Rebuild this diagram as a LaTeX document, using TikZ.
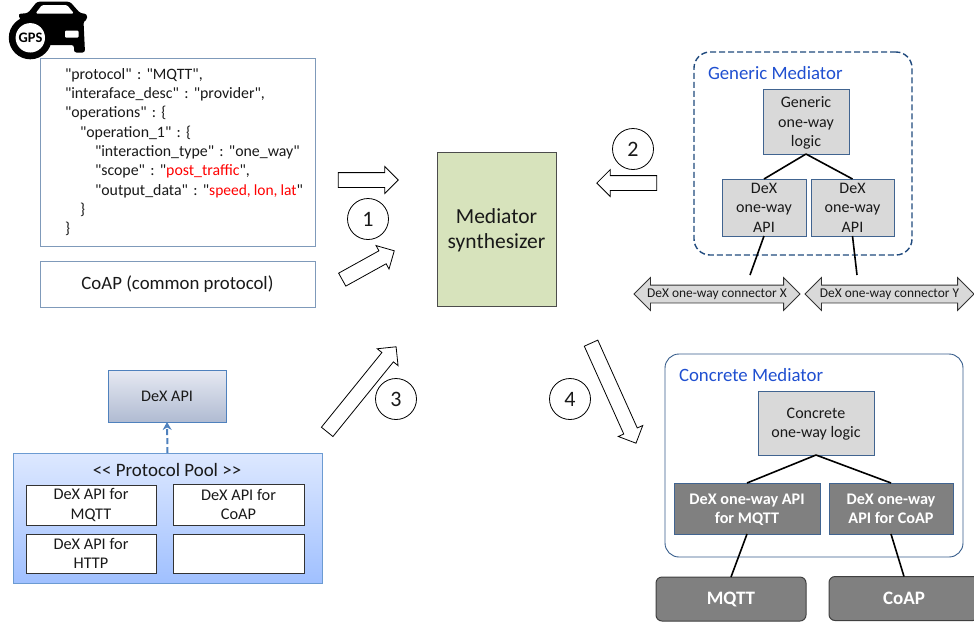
\documentclass[tikz,border=0pt]{standalone}
\usepackage{fontspec}
\setmainfont[Ligatures=TeXOff]{Carlito}
\usetikzlibrary{shapes.arrows,arrows.meta}
\definecolor{frameblue}{HTML}{7F9ABA}
\definecolor{darkblue}{HTML}{1F497D}
\definecolor{titleblue}{HTML}{1F4FD0}
\definecolor{poolline}{HTML}{6C9BD2}
\definecolor{usesblue}{HTML}{4F81BD}
\definecolor{synthgreen}{HTML}{D7E3BC}
\definecolor{pooltop}{HTML}{DDE8FF}
\definecolor{poolbottom}{HTML}{A0C0FF}
\definecolor{apitop}{HTML}{E6E9F2}
\definecolor{apibottom}{HTML}{B0BBD2}

\begin{document}
\begin{tikzpicture}[x=1pt,y=-1pt]
\tikzstyle{every node}=[outer sep=0pt,inner sep=0pt,align=center,text=black!90]
\tikzstyle{box}=[draw=frameblue,line width=1pt,fill=white]
\tikzstyle{logicbox}=[draw=darkblue!85,line width=0.9pt,fill=black!15,font=\fontsize{16}{19.4}\selectfont]
\tikzstyle{apibox}=[draw=darkblue!85,line width=0.9pt,fill=black!50,text=white,text depth=-7pt,font=\fontsize{16.2}{19.5}\selectfont\bfseries]
\tikzstyle{protobox}=[draw=black!75,line width=1pt,rounded corners=6pt,fill=black!50,text=white,font=\fontsize{19}{20}\selectfont\bfseries]
\tikzstyle{poolbox}=[draw=black!80,line width=0.9pt,fill=white,font=\fontsize{16.3}{19.5}\selectfont]
\tikzstyle{stepnum}=[draw=black,circle,line width=0.8pt,minimum size=41pt,fill=white,font=\fontsize{22}{24}\selectfont]
\tikzstyle{fatarrow}=[draw=black,line width=0.8pt,fill=white,single arrow,single arrow head extend=6pt,text height=14pt,text depth=0pt]
\tikzstyle{conn}=[draw=black!80,line width=0.8pt,fill=black!15,double arrow,double arrow head extend=7.5pt,text height=12pt,text depth=5pt,font=\fontsize{13.4}{14}\selectfont]
\tikzstyle{link}=[draw=black,line width=1.6pt]
\tikzstyle{mtitle}=[anchor=west,text=titleblue,font=\fontsize{18.8}{20}\selectfont]
\useasboundingbox (0,0) rectangle (974,625);

% car with gps badge
\fill[black,rounded corners=2.5pt] (18,14)--(28,13)--(37,1.7)--(70,1.7)--(80,13)--(87,14)--(87,20)--(83.5,21)--(85,52.5)--(74,52.5)--(74,45)--(40,45)--(25,30)--cycle;
\fill[white,rounded corners=1.5pt] (35.5,13.5)--(42,5)--(67,5)--(74,13.5)--cycle;
\fill[white,rounded corners=1pt] (65,30.5) rectangle (78.5,37.5);
\fill[black] (30.3,37.8) circle (21.5);
\fill[white] (30.3,37.8) circle (14.7);
\node[font=\fontsize{14.5}{16}\selectfont\bfseries,text=black] (gps) at (30.5,38) {GPS};

% inputs
\node[box,minimum width=275pt,minimum height=188pt,text width=275pt,align=left,
  font=\fontsize{15.85}{19.3}\selectfont\frenchspacing] (desc) at (177.5,152) {%
  \hspace*{25pt}"protocol" : "MQTT",\\
  \hspace*{25pt}"interaface\_desc" : "provider",\\
  \hspace*{25pt}"operations" : \{\\
  \hspace*{40pt}"operation\_1" : \{\\
  \hspace*{55pt}"interaction\_type" : "one\_way"\\
  \hspace*{55pt}"scope" : "\textcolor{red}{post\_traffic}",\\
  \hspace*{55pt}"output\_data" : "\textcolor{red}{\fontsize{15.5}{19.3}\selectfont\spaceskip=3pt speed, lon, lat}"\\
  \hspace*{40pt}\}\\
  \hspace*{25pt}\}};
\node[box,minimum width=275pt,minimum height=46pt,font=\fontsize{18.8}{20}\selectfont] (common) at (177.5,284) {CoAP (common protocol)};

\node[draw=black!70,line width=1pt,fill=synthgreen,minimum width=119pt,minimum height=154pt,text depth=-1pt,
  font=\fontsize{21.5}{25}\selectfont] (synth) at (496.5,229) {Mediator\\synthesizer};

% steps
\node[fatarrow,minimum height=60pt] (arrowa) at (364.5,180) {};
\node[fatarrow,minimum height=59.5pt,rotate=29] (arrowb) at (365,267) {};
\node[fatarrow,minimum height=60pt,rotate=180] (arrowc) at (630.5,183) {};
\node[fatarrow,minimum height=109.5pt,rotate=51] (arrowd) at (359.3,392.2) {};
\node[fatarrow,minimum height=109.7pt,rotate=-65.8] (arrowe) at (612,389.8) {};
\node[stepnum] (one) at (368,219) {1};
\node[stepnum] (two) at (633,149) {2};
\node[stepnum] (three) at (396,399) {3};
\node[stepnum] (four) at (570,399) {4};

% generic mediator
\node[draw=darkblue,line width=1.4pt,dash pattern=on 6pt off 3pt,rounded corners=16pt,minimum width=218pt,minimum height=203pt] (generic) at (803,153.5) {};
\node[mtitle] (generictitle) at (708,73) {Generic Mediator};
\node[logicbox,minimum width=86pt,minimum height=65pt,text depth=0pt] (glogic) at (806,121.5) {Generic\\one-way\\logic};
\node[logicbox,minimum width=84pt,minimum height=57pt,text depth=-4pt] (gapix) at (764,207.5) {DeX\\one-way\\API};
\node[logicbox,minimum width=83pt,minimum height=57pt,text depth=-4pt] (gapiy) at (852.5,207.5) {DeX\\one-way\\API};
\node[conn,minimum height=166pt] (connx) at (717,294) {DeX one-way connector X};
\node[conn,minimum height=169pt] (conny) at (889.5,294) {DeX one-way connector Y};
\coordinate (endx) at (750,275);
\coordinate (endy) at (857,275);
\draw[link] (glogic.south)--(gapix.north);
\draw[link] (glogic.south)--(gapiy.north);
\draw[link] (gapix.south)--(endx);
\draw[link] (gapiy.south)--(endy);

% concrete mediator
\node[draw=darkblue!90,line width=0.9pt,rounded corners=14pt,minimum width=298pt,minimum height=203pt] (concrete) at (814,455.5) {};
\node[mtitle] (concretetitle) at (679,375) {Concrete Mediator};
\node[logicbox,minimum width=116pt,minimum height=64pt,text depth=-2pt] (clogic) at (816,423) {Concrete\\one-way logic};
\node[apibox,minimum width=146pt,minimum height=51pt] (capimqtt) at (747,508.5) {DeX one-way API\\for MQTT};
\node[apibox,minimum width=124pt,minimum height=51pt] (capicoap) at (891,508.5) {DeX one-way\\API for CoAP};
\node[protobox,minimum width=150pt,minimum height=44pt] (mqtt) at (731,599) {MQTT};
\node[protobox,minimum width=150pt,minimum height=44pt] (coap) at (904,598.5) {CoAP};
\draw[link] (clogic.south)--(capimqtt.north);
\draw[link] (clogic.south)--(capicoap.north);
\draw[link] (capimqtt.south)--(mqtt.north);
\draw[link] (capicoap.south)--(coap.north);

% protocol pool
\node[draw=usesblue,line width=1pt,top color=apitop,bottom color=apibottom,minimum width=118pt,minimum height=52pt,
  font=\fontsize{16.2}{18}\selectfont] (dexapi) at (167,396) {DeX API};
\node[draw=poolline,line width=1pt,top color=pooltop,bottom color=poolbottom,minimum width=309pt,minimum height=130pt] (pool) at (167.5,518) {};
\node[font=\fontsize{18.9}{20}\selectfont] (pooltitle) at (167,470) {<< Protocol Pool >>};
\node[poolbox,minimum width=130pt,minimum height=40pt] (pmqtt) at (91,505) {DeX API for\\MQTT};
\node[poolbox,minimum width=131pt,minimum height=41pt] (pcoap) at (238.5,504.5) {DeX API for\\CoAP};
\node[poolbox,minimum width=130pt,minimum height=39pt] (phttp) at (91,553.5) {DeX API for\\HTTP};
\node[poolbox,minimum width=131pt,minimum height=39pt] (pempty) at (238.5,553.5) {};
\draw[usesblue,line width=2pt,dash pattern=on 6pt off 3pt,-{Stealth[length=8pt,width=9pt]}] (pool.north)--(dexapi.south);

\end{tikzpicture}
\end{document}
